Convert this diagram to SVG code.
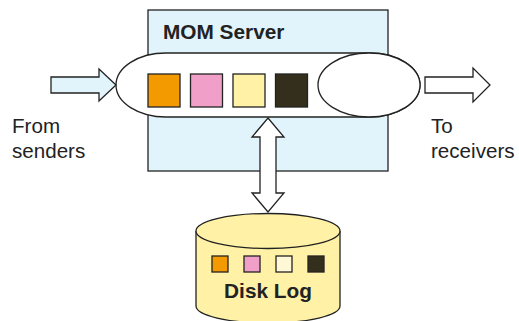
<svg xmlns="http://www.w3.org/2000/svg" width="519" height="321" viewBox="0 0 519 321">
<style>
.ln{stroke:#222;stroke-width:1.3}
.t{font-family:"Liberation Sans",Arial,sans-serif;font-size:20.6px;fill:#222}
.b{font-weight:bold;font-size:20.8px}
</style>
<rect width="519" height="321" fill="#fff"/>
<g id="server">
<rect x="148" y="10" width="240" height="161" fill="#E2F4FB" class="ln"/>
<text class="t b" x="163" y="39">MOM Server</text>
</g>
<g id="queue">
<rect x="116" y="53" width="304" height="64" rx="50" ry="32" fill="#fff" class="ln"/>
<rect x="148" y="74" width="32" height="33" fill="#F39A00" class="ln"/>
<rect x="190.5" y="74" width="32" height="33" fill="#F0A0C8" class="ln"/>
<rect x="233" y="74" width="32" height="33" fill="#FFF2A6" class="ln"/>
<rect x="275.5" y="74" width="32" height="33" fill="#332F1C" class="ln"/>
</g>
<g id="outport">
<ellipse cx="369" cy="85" rx="51" ry="32" fill="#fff" class="ln"/>
</g>
<g id="disklog">
<path d="M196 231 V306 A72 17 0 0 0 340 306 V231" fill="#FFF1A6" class="ln"/>
<ellipse cx="268" cy="231" rx="72" ry="17.5" fill="#FFF1A6" class="ln"/>
<rect x="212" y="256" width="16" height="16" fill="#F39A00" class="ln"/>
<rect x="244" y="256" width="16" height="16" fill="#F0A0C8" class="ln"/>
<rect x="276" y="256" width="16" height="16" fill="#FFF8D6" class="ln"/>
<rect x="308" y="256" width="16" height="16" fill="#332F1C" class="ln"/>
<text class="t b" x="268" y="298" text-anchor="middle">Disk Log</text>
</g>
<g id="connectors">
<path d="M51 77 H99 V69 L116 85 L99 101 V93 H51 Z" fill="#E2F4FB" class="ln"/>
<path d="M425 77 H473 V68 L490 85 L473 102 V93 H425 Z" fill="#fff" class="ln"/>
<path d="M268 118 L284 137 H276 V193 H284 L268 212 L252 193 H260 V137 H252 Z" fill="#fff" class="ln"/>
</g>
<g id="labels">
<text class="t" x="12" y="133">From</text>
<text class="t" x="12" y="158">senders</text>
<text class="t" x="431" y="133">To</text>
<text class="t" x="431" y="158">receivers</text>
</g>
</svg>
